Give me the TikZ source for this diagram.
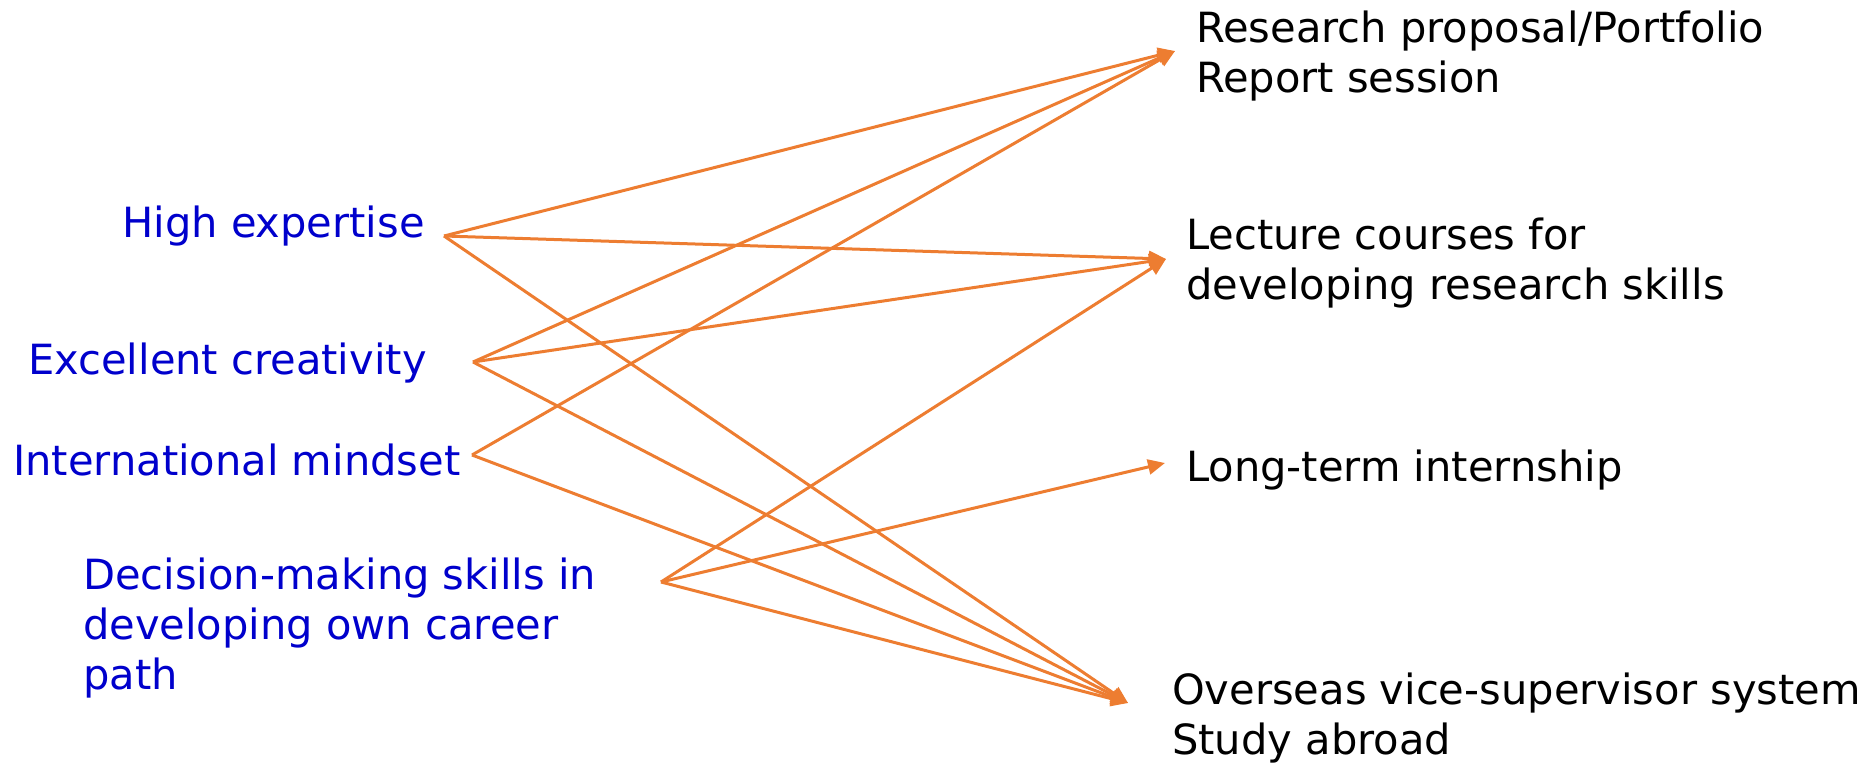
\documentclass[tikz,border=0pt]{standalone}
\usepackage{fontspec}
\setmainfont{DejaVu Sans}
\usetikzlibrary{arrows.meta}
\definecolor{arroworange}{RGB}{237,125,49}
\definecolor{goalblue}{RGB}{0,0,204}
\tikzset{
  goal/.style={anchor=base west, inner sep=0pt, text=goalblue, align=left, font=\fontsize{41.6}{50}\selectfont},
  prog/.style={anchor=base west, inner sep=0pt, text=black, align=left, font=\fontsize{41.6}{50}\selectfont},
  link/.style={draw=arroworange, line width=3pt, -{Triangle[length=17pt,width=15pt]}}
}
\begin{document}
\begin{tikzpicture}[x=1pt,y=-1pt]
\useasboundingbox (0,0) rectangle (1861,767);
% left labels (base = baseline of the last line)
\node[goal] (high) at (122,238) {High expertise};
\node[goal] (crea) at (28,374) {Excellent creativity};
\node[goal] (intl) at (13,475) {International mindset};
\node[goal] (deci) at (83,689) {Decision-making skills in\\developing own career\\path};
% right labels
\node[prog] (resp) at (1196,93) {Research proposal/Portfolio\\Report session};
\node[prog] (lect) at (1186,300) {Lecture courses for\\developing research skills};
\node[prog] (intn) at (1186,481) {Long-term internship};
\node[prog] (over) at (1172,754) {Overseas vice-supervisor system\\Study abroad};
% connector end points
\coordinate (hs) at (444,236);
\coordinate (es) at (473,362);
\coordinate (is) at (472,455);
\coordinate (ds) at (661,582);
\coordinate (rt) at (1175,51);
\coordinate (lt) at (1166,259);
\coordinate (it) at (1165,463);
\coordinate (ot) at (1128,703);
% connectors
\draw[link] (hs) -- (rt);
\draw[link] (hs) -- (lt);
\draw[link] (hs) -- (ot);
\draw[link] (es) -- (rt);
\draw[link] (es) -- (lt);
\draw[link] (es) -- (ot);
\draw[link] (is) -- (rt);
\draw[link] (is) -- (ot);
\draw[link] (ds) -- (lt);
\draw[link] (ds) -- (it);
\draw[link] (ds) -- (ot);
\end{tikzpicture}
\end{document}
